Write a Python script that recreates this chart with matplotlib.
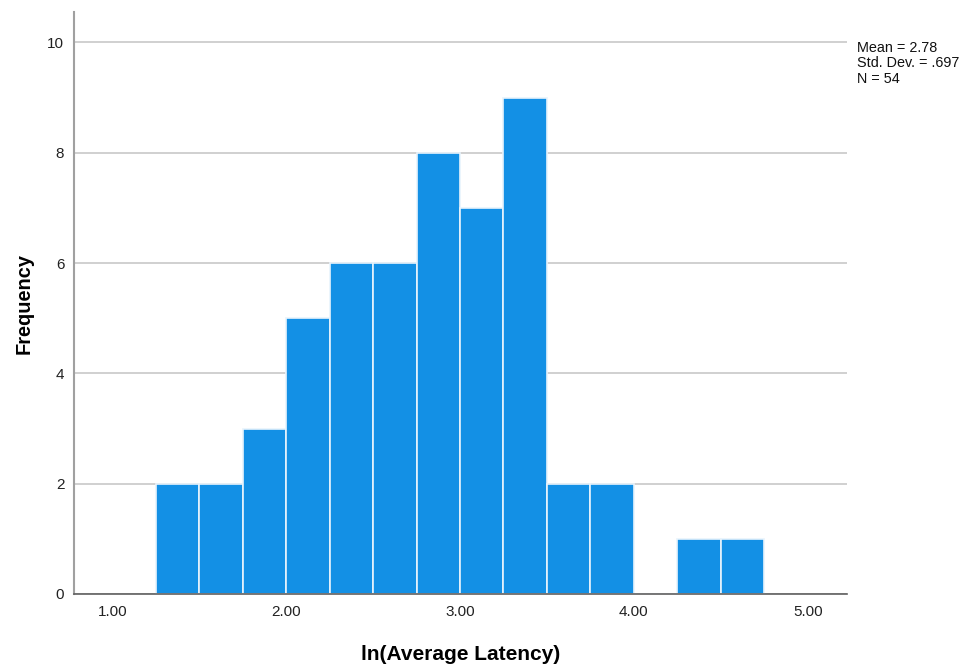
import numpy as np
import matplotlib.pyplot as plt

plt.rcParams['font.family'] = ['Liberation Sans', 'DejaVu Sans']

# histogram of ln(Average Latency), bins of width 0.25
bin_starts = [1.25, 1.50, 1.75, 2.00, 2.25, 2.50, 2.75, 3.00, 3.25, 3.50, 3.75, 4.00, 4.25, 4.50]
counts = [2, 2, 3, 5, 6, 6, 8, 7, 9, 2, 2, 0, 1, 1]
bin_width = 0.25
x_ticks = [1.0, 2.0, 3.0, 4.0, 5.0]
y_ticks = [0, 2, 4, 6, 8, 10]
stats_text = "Mean = 2.78\nStd. Dev. = .697\nN = 54"

fig = plt.figure(figsize=(9.61, 6.65), dpi=100)
ax = fig.add_axes([0.077, 0.1068, 0.804, 0.875])

ax.bar(bin_starts, counts, width=bin_width, align='edge',
       color='#1390E5', edgecolor='#E8F3FC', linewidth=1.2, zorder=3)

ax.set_xlim(0.78, 5.224)
ax.set_ylim(0, 10.55)
ax.set_xticks(x_ticks)
ax.set_xticklabels([f"{t:.2f}" for t in x_ticks])
ax.set_yticks(y_ticks)

ax.grid(axis='y', color='#C8C8C8', linewidth=1.2, zorder=0)
ax.tick_params(length=0, labelsize=11, colors='#222222', pad=8)
ax.tick_params(axis='y', pad=7)

for side in ('top', 'right'):
    ax.spines[side].set_visible(False)
ax.spines['left'].set_color('#A0A0A0')
ax.spines['left'].set_linewidth(1.5)
ax.spines['bottom'].set_color('#606060')
ax.spines['bottom'].set_linewidth(1.2)
ax.spines['bottom'].set_zorder(4)

ax.set_xlabel('ln(Average Latency)', fontsize=15, fontweight='bold', labelpad=19)
ax.set_ylabel('Frequency', fontsize=14.4, fontweight='bold', labelpad=10)

fig.text(857 / 961, 1 - 41 / 665, stats_text, fontsize=10.4, va='top', ha='left',
         linespacing=1.12, color='#111111')

fig.savefig('out.png', dpi=100)
